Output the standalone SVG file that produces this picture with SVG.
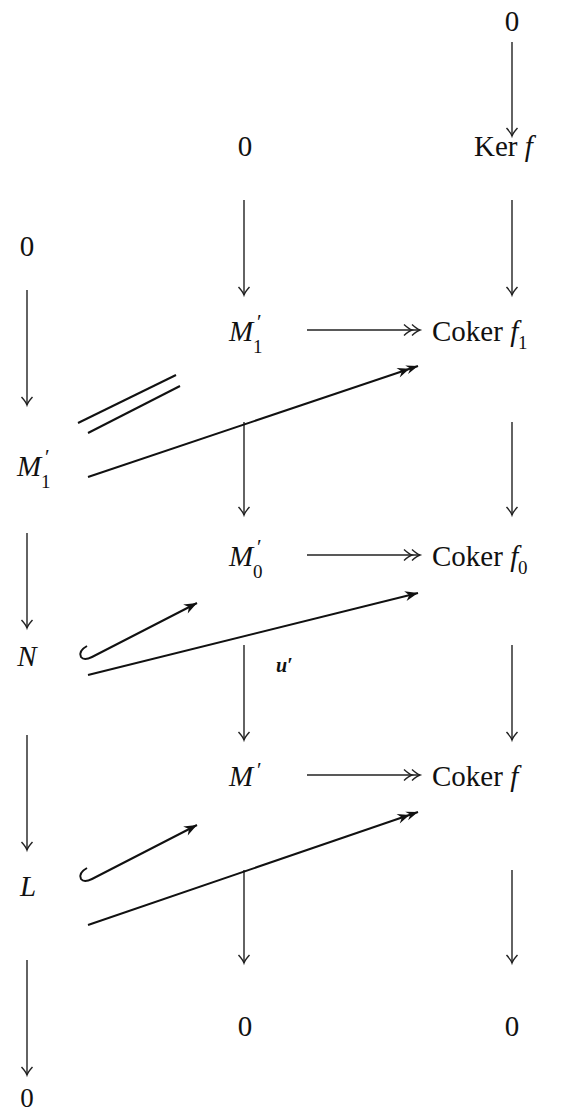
<svg xmlns="http://www.w3.org/2000/svg" width="571" height="1112" viewBox="0 0 571 1112">
<style>
text{font-family:'Liberation Serif','DejaVu Serif',serif;fill:#111;font-size:29px}
.i{font-style:italic}
.s{font-size:19px}
.p{font-size:21px}
.c{text-anchor:middle}
.ar{stroke:#222;stroke-width:1.4;fill:none}
.dg{stroke:#111;stroke-width:2;fill:none}
</style>
<defs>
<marker id="h" markerUnits="userSpaceOnUse" markerWidth="20" markerHeight="20" viewBox="-10 -10 20 20" refX="0" refY="0" orient="auto"><path d="M-8,-5.5 Q-3,-1 0,0 Q-3,1 -8,5.5" stroke="#222" stroke-width="1.4" fill="none"/></marker>
<marker id="h2" markerUnits="userSpaceOnUse" markerWidth="30" markerHeight="20" viewBox="-20 -10 30 20" refX="0" refY="0" orient="auto"><path d="M-8,-5.5 Q-3,-1 0,0 Q-3,1 -8,5.5 M-16,-5.5 Q-11,-1 -8,0 Q-11,1 -16,5.5" stroke="#222" stroke-width="1.4" fill="none"/></marker>
<marker id="f" markerUnits="userSpaceOnUse" markerWidth="20" markerHeight="20" viewBox="-15 -10 20 20" refX="0" refY="0" orient="auto"><path d="M0,0 L-13,-5 L-9,0 L-13,5 Z" fill="#111"/></marker>
<marker id="f2" markerUnits="userSpaceOnUse" markerWidth="30" markerHeight="20" viewBox="-25 -10 30 20" refX="0" refY="0" orient="auto"><path d="M0,0 L-12,-4.5 L-8,0 L-12,4.5 Z M-9,0 L-21,-5 L-17,0 L-21,5 Z" fill="#111"/></marker>
</defs>

<g id="r0"><text class="c" x="512" y="31">0</text></g>
<g id="kerf"><text x="474" y="156">Ker <tspan class="i">f</tspan></text></g>
<g id="cokf1"><text x="432" y="341">Coker <tspan class="i">f</tspan></text><text class="s" x="518" y="349">1</text></g>
<g id="cokf0"><text x="432" y="566">Coker <tspan class="i">f</tspan></text><text class="s" x="518" y="574">0</text></g>
<g id="cokf"><text x="432" y="786">Coker <tspan class="i">f</tspan></text></g>
<g id="r5"><text class="c" x="512" y="1036">0</text></g>

<g id="m0"><text class="c" x="245" y="156">0</text></g>
<g id="m1p"><text class="i" x="229" y="341">M</text><text class="p" x="257" y="329">′</text><text class="s" x="253" y="353">1</text></g>
<g id="m0p"><text class="i" x="229" y="566">M</text><text class="p" x="257" y="554">′</text><text class="s" x="253" y="578">0</text></g>
<g id="mp"><text class="i" x="229" y="786">M</text><text class="p" x="257" y="777">′</text></g>
<g id="m5"><text class="c" x="245" y="1036">0</text></g>

<g id="l0"><text class="c" x="27" y="256">0</text></g>
<g id="lm1p"><text class="i" x="17" y="476">M</text><text class="p" x="45" y="464">′</text><text class="s" x="41" y="488">1</text></g>
<g id="ln"><text class="i c" x="27" y="666">N</text></g>
<g id="ll"><text class="i c" x="28" y="896">L</text></g>
<g id="l5"><text class="c" x="27" y="1107" style="font-size:27px">0</text></g>

<g id="lab"><text class="i" x="276" y="672" style="font-size:20px;font-weight:bold">u′</text></g>

<g id="connectors">
<line class="ar" x1="512" y1="42" x2="512" y2="136" marker-end="url(#h)"/>
<line class="ar" x1="512" y1="200" x2="512" y2="295" marker-end="url(#h)"/>
<line class="ar" x1="512" y1="422" x2="512" y2="515" marker-end="url(#h)"/>
<line class="ar" x1="512" y1="645" x2="512" y2="740" marker-end="url(#h)"/>
<line class="ar" x1="512" y1="870" x2="512" y2="963" marker-end="url(#h)"/>
<line class="ar" x1="244" y1="200" x2="244" y2="295" marker-end="url(#h)"/>
<line class="ar" x1="244" y1="422" x2="244" y2="515" marker-end="url(#h)"/>
<line class="ar" x1="244" y1="645" x2="244" y2="740" marker-end="url(#h)"/>
<line class="ar" x1="244" y1="870" x2="244" y2="963" marker-end="url(#h)"/>
<line class="ar" x1="27" y1="290" x2="27" y2="405" marker-end="url(#h)"/>
<line class="ar" x1="27" y1="533" x2="27" y2="628" marker-end="url(#h)"/>
<line class="ar" x1="27" y1="735" x2="27" y2="850" marker-end="url(#h)"/>
<line class="ar" x1="27" y1="960" x2="27" y2="1075" marker-end="url(#h)"/>
<line class="ar" x1="307" y1="330" x2="420" y2="330" marker-end="url(#h2)"/>
<line class="ar" x1="307" y1="555" x2="420" y2="555" marker-end="url(#h2)"/>
<line class="ar" x1="307" y1="775" x2="420" y2="775" marker-end="url(#h2)"/>
<line class="dg" x1="78" y1="423" x2="176" y2="375"/>
<line class="dg" x1="88" y1="433" x2="180" y2="386"/>
<line class="dg" x1="88" y1="477" x2="418" y2="366" marker-end="url(#f2)"/>
<line class="dg" x1="88" y1="675" x2="418" y2="593" marker-end="url(#f)"/>
<line class="dg" x1="88" y1="925" x2="418" y2="812" marker-end="url(#f2)"/>
<path class="dg" d="M87,646 Q78,651 81,657 Q84,661 92,657 L197,603" marker-end="url(#f)"/>
<path class="dg" d="M87,868 Q78,873 81,879 Q84,883 92,879 L197,825" marker-end="url(#f)"/>
</g>
</svg>
